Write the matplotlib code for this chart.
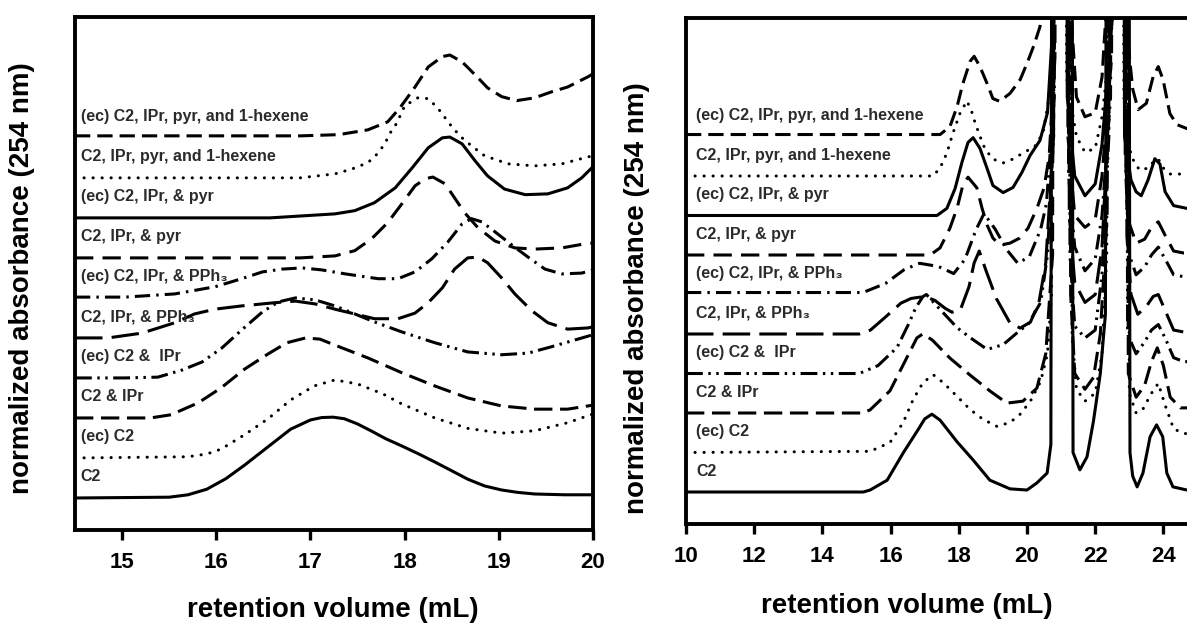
import matplotlib
matplotlib.use("Agg")
import matplotlib.pyplot as plt

# trace labels, bottom trace first
labels = [
    "C2",
    "(ec) C2",
    "C2 & IPr",
    "(ec) C2 &  IPr",
    "C2, IPr, & PPh\u2083",
    "(ec) C2, IPr, & PPh\u2083",
    "C2, IPr, & pyr",
    "(ec) C2, IPr, & pyr",
    "C2, IPr, pyr, and 1-hexene",
    "(ec) C2, IPr, pyr, and 1-hexene",
]

# ---- left panel: 14.5 - 20 mL, normalized absorbance above each trace's baseline ----
lx_c2 = [14.5, 15.5, 15.7, 15.9, 16.1, 16.3, 16.55, 16.79, 17.0, 17.12, 17.24, 17.36, 17.5, 17.65, 17.8, 17.97, 18.15, 18.32, 18.5, 18.67, 18.85, 19.03, 19.2, 19.38, 19.7, 20.0]
ly_c2 = [0, 0.02, 0.08, 0.22, 0.48, 0.82, 1.28, 1.72, 1.95, 2.01, 2.02, 1.98, 1.85, 1.67, 1.48, 1.3, 1.1, 0.9, 0.68, 0.47, 0.3, 0.2, 0.14, 0.1, 0.08, 0.08]

lx_ec_c2 = [14.5, 15.7, 15.9, 16.05, 16.3, 16.55, 16.79, 17.04, 17.26, 17.5, 17.77, 17.97, 18.32, 18.67, 19.03, 19.38, 19.73, 20.0]
ly_ec_c2 = [0, 0.03, 0.1, 0.22, 0.58, 0.98, 1.45, 1.8, 1.95, 1.85, 1.6, 1.35, 1.0, 0.74, 0.62, 0.68, 0.88, 1.1]

lx_c2_ipr = [14.5, 15.3, 15.52, 15.81, 16.05, 16.3, 16.55, 16.75, 16.95, 17.1, 17.26, 17.61, 17.97, 18.32, 18.67, 19.03, 19.38, 19.73, 20.0]
ly_c2_ipr = [0, 0, 0.08, 0.38, 0.75, 1.22, 1.6, 1.88, 2.0, 1.97, 1.82, 1.5, 1.13, 0.8, 0.5, 0.3, 0.22, 0.22, 0.32]

lx_ec_c2_ipr = [14.5, 15.03, 15.38, 15.64, 15.85, 16.06, 16.27, 16.49, 16.66, 16.84, 17.05, 17.26, 17.68, 17.97, 18.32, 18.67, 19.03, 19.31, 19.56, 19.81, 20.0]
ly_ec_c2_ipr = [0, 0, 0.02, 0.2, 0.4, 0.75, 1.2, 1.65, 1.9, 2.0, 1.95, 1.8, 1.4, 1.15, 0.88, 0.65, 0.58, 0.62, 0.78, 0.95, 1.08]

lx_pph3 = [14.5, 14.85, 15.21, 15.56, 15.77, 15.99, 16.27, 16.62, 16.84, 17.05, 17.29, 17.47, 17.68, 17.93, 18.11, 18.25, 18.4, 18.53, 18.67, 18.78, 18.88, 19.03, 19.17, 19.35, 19.52, 19.73, 19.95, 20.0]
ly_pph3 = [0, 0, 0.12, 0.38, 0.6, 0.72, 0.8, 0.88, 0.92, 0.85, 0.7, 0.6, 0.48, 0.48, 0.62, 0.88, 1.25, 1.72, 2.0, 2.02, 1.88, 1.5, 1.1, 0.68, 0.38, 0.22, 0.25, 0.28]

lx_ec_pph3 = [14.5, 15.03, 15.56, 15.99, 16.27, 16.49, 16.7, 16.91, 17.12, 17.37, 17.72, 17.93, 18.11, 18.29, 18.46, 18.61, 18.71, 18.82, 18.96, 19.14, 19.31, 19.49, 19.67, 19.88, 20.0]
ly_ec_pph3 = [0.02, 0.02, 0.1, 0.28, 0.48, 0.65, 0.72, 0.75, 0.7, 0.6, 0.48, 0.48, 0.65, 0.98, 1.4, 1.85, 1.98, 1.9, 1.65, 1.32, 1.02, 0.72, 0.6, 0.62, 0.7]

lx_pyr = [14.5, 16.89, 17.26, 17.47, 17.65, 17.82, 17.97, 18.11, 18.22, 18.3, 18.43, 18.53, 18.64, 18.78, 18.96, 19.17, 19.38, 19.67, 19.91, 20.0]
ly_pyr = [0, 0, 0.05, 0.18, 0.48, 0.88, 1.35, 1.8, 1.98, 2.02, 1.85, 1.5, 1.12, 0.75, 0.42, 0.25, 0.22, 0.25, 0.35, 0.37]

lx_ec_pyr = [14.5, 16.57, 17.26, 17.47, 17.68, 17.9, 18.08, 18.25, 18.4, 18.48, 18.61, 18.75, 18.88, 19.06, 19.28, 19.52, 19.73, 19.88, 20.0]
ly_ec_pyr = [0, 0, 0.1, 0.18, 0.38, 0.75, 1.25, 1.75, 2.0, 2.02, 1.85, 1.42, 1.05, 0.72, 0.58, 0.6, 0.75, 1.0, 1.28]

lx_hex = [14.5, 16.89, 17.26, 17.44, 17.61, 17.71, 17.79, 17.84, 17.92, 18.0, 18.14, 18.25, 18.35, 18.43, 18.51, 18.61, 18.71, 18.85, 19.1, 19.38, 19.67, 19.94, 20.0]
ly_hex = [0, 0, 0.1, 0.22, 0.38, 0.6, 0.85, 1.1, 1.38, 1.8, 2.0, 1.98, 1.75, 1.5, 1.25, 1.0, 0.8, 0.55, 0.35, 0.3, 0.35, 0.52, 0.55]

lx_ec_hex = [14.5, 16.9, 17.3, 17.61, 17.82, 17.95, 18.11, 18.25, 18.4, 18.48, 18.61, 18.75, 18.88, 19.03, 19.19, 19.38, 19.56, 19.73, 19.95, 20.0]
ly_ec_hex = [0.05, 0.05, 0.08, 0.2, 0.4, 0.75, 1.27, 1.77, 2.03, 2.07, 1.9, 1.57, 1.25, 1.03, 0.93, 1.0, 1.15, 1.27, 1.53, 1.6]

# ---- right panel: 10 - 26 mL, the two big peaks (~21 and ~22.7 mL) run far off scale ----
rx_c2 = [10, 15.2, 15.4, 15.9, 16.37, 16.8, 17.0, 17.21, 17.45, 17.95, 18.42, 18.91, 19.5, 20.0, 20.29, 20.59, 20.7, 20.77, 21.28, 21.35, 21.55, 21.76, 21.95, 22.15, 22.3, 22.38, 22.95, 23.02, 23.1, 23.23, 23.4, 23.61, 23.8, 23.98, 24.1, 24.28, 24.69, 26]
ry_c2 = [0, 0, 0.05, 0.3, 0.99, 1.57, 1.85, 1.97, 1.82, 1.27, 0.81, 0.3, 0.08, 0.05, 0.23, 0.48, 1.2, 40, 40, 1.0, 0.56, 0.89, 1.8, 3.0, 4.5, 40, 40, 1.0, 0.4, 0.13, 0.48, 1.4, 1.7, 1.4, 0.48, 0.13, 0.05, 0.05]

rx_ec_c2 = [10, 15.4, 15.98, 16.37, 16.66, 16.95, 17.25, 17.54, 17.95, 18.33, 18.71, 19.12, 19.5, 19.79, 20.1, 20.4, 20.6, 20.72, 20.8, 21.24, 21.32, 21.45, 21.7, 22.0, 22.2, 22.34, 22.42, 22.92, 23.0, 23.2, 23.4, 23.65, 23.85, 24.05, 24.3, 24.6, 26]
ry_ec_c2 = [0, 0.03, 0.25, 0.76, 1.34, 1.77, 1.97, 1.77, 1.42, 1.09, 0.84, 0.66, 0.76, 0.96, 1.3, 1.8, 2.5, 4, 40, 40, 3, 1.6, 1.3, 1.5, 2.5, 5, 40, 40, 1.5, 1.0, 1.1, 1.5, 1.75, 1.2, 0.6, 0.48, 0.48]

rx_c2_ipr = [10, 15.19, 15.4, 15.98, 16.47, 16.77, 16.94, 17.22, 17.74, 18.33, 18.91, 19.41, 19.88, 20.29, 20.55, 20.75, 20.83, 21.2, 21.28, 21.4, 21.7, 21.95, 22.15, 22.35, 22.46, 22.89, 22.97, 23.2, 23.45, 23.65, 23.82, 24.0, 24.2, 24.5, 26]
ry_c2_ipr = [0, 0, 0.08, 0.56, 1.39, 1.9, 2.0, 1.85, 1.39, 0.96, 0.56, 0.25, 0.3, 0.63, 1.5, 4, 40, 40, 3, 1.0, 0.6, 0.9, 2, 5, 40, 40, 1.0, 0.4, 0.7, 1.3, 1.65, 1.2, 0.4, 0.13, 0.13]

rx_ec_c2_ipr = [10, 15.08, 15.63, 16.19, 16.52, 16.74, 16.95, 17.05, 17.4, 17.95, 18.33, 18.83, 19.3, 19.79, 20.03, 20.4, 20.6, 20.78, 20.86, 21.17, 21.26, 21.4, 21.7, 22.0, 22.2, 22.4, 22.5, 22.86, 22.95, 23.2, 23.45, 23.65, 23.85, 24.05, 24.3, 24.6, 26]
ry_ec_c2_ipr = [0, 0, 0.2, 0.66, 1.24, 1.67, 1.95, 2.0, 1.67, 1.16, 0.91, 0.61, 0.73, 1.09, 1.24, 1.8, 3, 6, 40, 40, 3, 1.2, 0.9, 1.1, 2.5, 6, 40, 40, 1.0, 0.5, 0.8, 1.1, 1.24, 0.9, 0.4, 0.3, 0.3]

rx_pph3 = [10, 15.08, 15.41, 15.85, 16.3, 16.6, 17.0, 17.3, 17.6, 17.8, 18.05, 18.3, 18.45, 18.6, 18.8, 19.1, 19.5, 19.8, 20.1, 20.35, 20.55, 20.78, 20.88, 21.14, 21.24, 21.4, 21.7, 22.0, 22.2, 22.42, 22.53, 22.83, 22.93, 23.05, 23.25, 23.5, 23.7, 23.85, 24.05, 24.3, 24.6, 26]
ry_pph3 = [0, 0, 0.1, 0.43, 0.78, 0.9, 0.95, 0.85, 0.65, 0.55, 0.62, 1.2, 1.8, 2.1, 1.6, 0.9, 0.28, 0.15, 0.3, 0.8, 1.8, 5, 40, 40, 3, 1.3, 0.8, 1.0, 2.2, 6, 40, 40, 2.5, 1.0, 0.5, 0.7, 0.95, 1.0, 0.6, 0.1, 0.05, 0.05]

rx_ec_pph3 = [10, 15.19, 15.85, 16.4, 16.85, 17.4, 17.85, 18.18, 18.51, 18.74, 19.07, 19.4, 19.73, 20.07, 20.4, 20.57, 20.8, 20.9, 21.12, 21.22, 21.4, 21.7, 22.0, 22.2, 22.45, 22.56, 22.8, 22.9, 23.0, 23.2, 23.45, 23.65, 23.85, 24.05, 24.3, 24.6, 26]
ry_ec_pph3 = [0.05, 0.05, 0.28, 0.63, 0.79, 0.71, 0.53, 0.89, 1.65, 2.05, 1.65, 1.14, 0.79, 0.96, 1.65, 2.3, 5, 40, 40, 3, 1.2, 0.6, 0.9, 2, 5, 40, 40, 3, 1.0, 0.5, 0.7, 1.0, 1.2, 0.9, 0.5, 0.45, 0.45]

rx_pyr = [10, 17.16, 17.45, 17.74, 17.95, 18.12, 18.27, 18.53, 18.68, 18.83, 19.0, 19.21, 19.5, 19.79, 20.03, 20.3, 20.5, 20.65, 20.82, 20.92, 21.1, 21.2, 21.4, 21.7, 22.0, 22.2, 22.48, 22.58, 22.78, 22.88, 23.0, 23.2, 23.45, 23.65, 23.85, 24.05, 24.3, 24.6, 26]
ry_pyr = [0, 0, 0.18, 0.68, 1.19, 1.77, 1.97, 1.7, 1.19, 0.76, 0.43, 0.25, 0.3, 0.43, 0.68, 1.2, 1.7, 2.5, 5, 40, 40, 3, 1.0, 0.7, 0.9, 2, 5, 40, 40, 2.5, 0.8, 0.3, 0.4, 0.7, 0.84, 0.5, 0.1, 0.05, 0.05]

rx_ec_pyr = [10, 17.36, 17.65, 17.89, 18.09, 18.27, 18.42, 18.62, 18.83, 19.0, 19.3, 19.59, 19.85, 20.09, 20.38, 20.6, 20.84, 20.94, 21.08, 21.18, 21.4, 21.7, 22.0, 22.2, 22.5, 22.6, 22.76, 22.86, 23.05, 23.2, 23.35, 23.55, 23.75, 23.9, 24.05, 24.3, 24.69, 26]
ry_ec_pyr = [0, 0, 0.18, 0.68, 1.34, 1.85, 1.97, 1.7, 1.19, 0.76, 0.58, 0.71, 1.09, 1.52, 1.9, 2.6, 6, 40, 40, 3, 1.0, 0.5, 0.8, 1.8, 5, 40, 40, 2.0, 0.9, 0.6, 0.5, 0.9, 1.44, 1.3, 0.6, 0.25, 0.18, 0.18]

rx_hex = [10, 17.24, 17.45, 17.65, 17.83, 18.04, 18.24, 18.39, 18.48, 18.62, 18.77, 19.0, 19.3, 19.59, 19.88, 20.23, 20.47, 20.65, 20.86, 20.96, 21.06, 21.16, 21.45, 21.7, 22.0, 22.2, 22.52, 22.62, 22.74, 22.84, 23.05, 23.3, 23.55, 23.75, 23.85, 24.0, 24.2, 26]
ry_hex = [0, 0, 0.2, 0.58, 1.09, 1.6, 1.9, 1.6, 1.34, 1.01, 0.68, 0.43, 0.33, 0.43, 0.58, 0.75, 1.09, 2, 5, 40, 40, 2.5, 1.0, 0.6, 0.7, 1.5, 4, 40, 40, 2, 0.5, 0.15, 0.2, 0.4, 0.43, 0.2, 0.05, 0.05]

rx_ec_hex = [10, 17.45, 17.74, 17.95, 18.12, 18.33, 18.45, 18.62, 18.83, 19.0, 19.2, 19.5, 19.8, 20.0, 20.2, 20.38, 20.55, 20.75, 20.98, 21.04, 21.3, 21.45, 21.7, 22.0, 22.2, 22.38, 22.64, 22.72, 22.95, 23.1, 23.26, 23.5, 23.7, 23.85, 23.99, 24.19, 24.4, 24.69, 26]
ry_ec_hex = [0.05, 0.05, 0.25, 0.76, 1.34, 1.9, 2.03, 1.77, 1.34, 0.96, 0.89, 1.09, 1.44, 1.85, 2.3, 2.78, 4, 8, 40, 40, 3, 1.0, 0.5, 0.6, 1.5, 4, 40, 40, 2.5, 1.2, 0.68, 0.84, 1.52, 1.77, 1.44, 0.58, 0.3, 0.2, 0.2]

left_traces = [(lx_c2, ly_c2), (lx_ec_c2, ly_ec_c2), (lx_c2_ipr, ly_c2_ipr),
               (lx_ec_c2_ipr, ly_ec_c2_ipr), (lx_pph3, ly_pph3), (lx_ec_pph3, ly_ec_pph3),
               (lx_pyr, ly_pyr), (lx_ec_pyr, ly_ec_pyr), (lx_hex, ly_hex), (lx_ec_hex, ly_ec_hex)]
right_traces = [(rx_c2, ry_c2), (rx_ec_c2, ry_ec_c2), (rx_c2_ipr, ry_c2_ipr),
                (rx_ec_c2_ipr, ry_ec_c2_ipr), (rx_pph3, ry_pph3), (rx_ec_pph3, ry_ec_pph3),
                (rx_pyr, ry_pyr), (rx_ec_pyr, ry_ec_pyr), (rx_hex, ry_hex), (rx_ec_hex, ry_ec_hex)]

# line style for each trace (dash lengths are in multiples of the line width)
DOT = (0, (0.05, 2.9))
styles = [
    "-",
    DOT,
    (0, (6, 2.5)),
    (0, (5.5, 1.8, 0.8, 1.8, 0.8, 1.8)),
    (0, (9, 3)),
    (0, (5, 2, 0.8, 2)),
    (0, (6, 3)),
    "-",
    DOT,
    (0, (5, 2.3)),
]

LW = 2.2
FONT = ["Liberation Sans", "DejaVu Sans"]
plt.rcParams["font.family"] = FONT
plt.rcParams["font.weight"] = "bold"


def draw_stack(ax, traces, label_x):
    for i, (xs, ys) in enumerate(traces):
        dotted = styles[i] is DOT
        ax.plot(xs, [y + i for y in ys], color="black", lw=LW, linestyle=styles[i],
                dash_capstyle="round" if dotted else "butt",
                solid_joinstyle="round", dash_joinstyle="round")
        ax.text(label_x, i + 0.53, labels[i], fontsize=11.5, fontweight="bold",
                color="#2b2b2b", va="center", ha="left", family=FONT)
    ax.set_yticks([])
    for sp in ax.spines.values():
        sp.set_linewidth(2.8)
    ax.tick_params(axis="x", direction="out", length=7, width=2.4, pad=9,
                   labelsize=16)
    for t in ax.get_xticklabels():
        t.set_fontweight("bold")


fig = plt.figure(figsize=(11.87, 6.28), dpi=100)
W, H = 1187.0, 628.0

ax_left = fig.add_axes([75 / W, 1 - 530 / H, 518 / W, 513 / H])
ax_left.set_xlim(14.5, 20)
ax_left.set_ylim(-0.8, 12.02)
ax_left.set_xticks([15, 16, 17, 18, 19, 20])
draw_stack(ax_left, left_traces, 14.56)

ax_right = fig.add_axes([686 / W, 1 - 524 / H, 16 * 34.1 / W, 506 / H])
ax_right.set_xlim(10, 26)
ax_right.set_ylim(-0.81, 12.0)
ax_right.set_xticks([10, 12, 14, 16, 18, 20, 22, 24])
draw_stack(ax_right, right_traces, 10.3)

# axis titles
fig.text(22 / W, 1 - 278 / H, "normalized absorbance (254 nm)", rotation=90,
         ha="center", va="center", fontsize=20, fontweight="bold")
fig.text(637 / W, 1 - 298 / H, "normalized absorbance (254 nm)", rotation=90,
         ha="center", va="center", fontsize=20, fontweight="bold")
fig.text(333 / W, 1 - 610 / H, "retention volume (mL)", ha="center", va="center",
         fontsize=20, fontweight="bold")
fig.text(907 / W, 1 - 606 / H, "retention volume (mL)", ha="center", va="center",
         fontsize=20, fontweight="bold")

fig.savefig("out.png", dpi=100, facecolor="white")
